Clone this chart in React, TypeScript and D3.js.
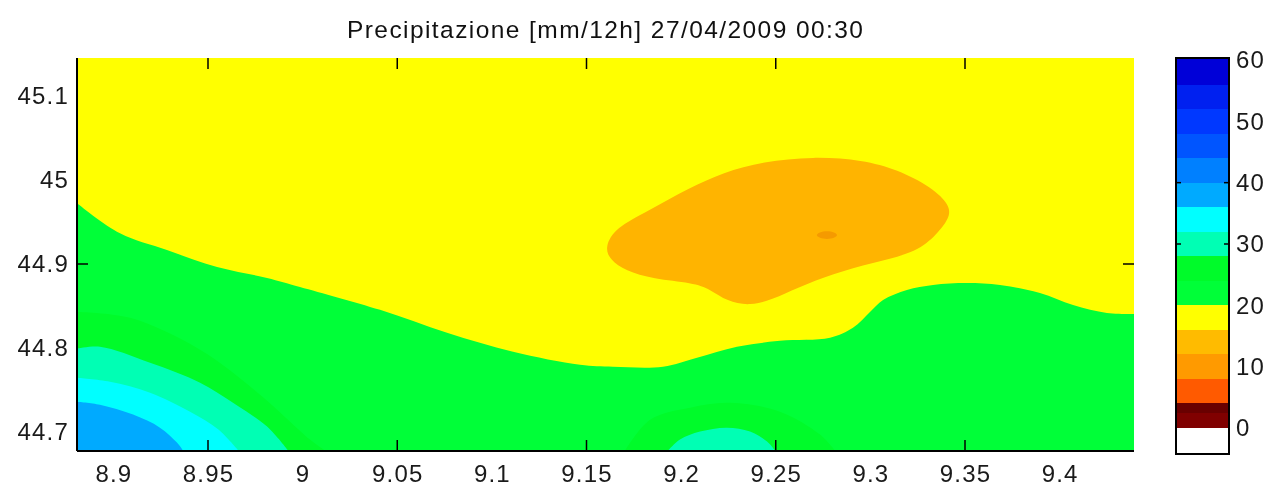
import React, { useEffect, useRef } from "react";
import * as d3 from "d3";

type Pt = [number, number];

const titleText = "Precipitazione [mm/12h] 27/04/2009 00:30";
const xLabels = [8.9, 8.95, 9, 9.05, 9.1, 9.15, 9.2, 9.25, 9.3, 9.35, 9.4];
const xTicks = [8.95, 9.05, 9.15, 9.25, 9.35];
const yLabels = [44.7, 44.8, 44.9, 45, 45.1];
const yTicks = [44.9];
const barLabels = [0, 10, 20, 30, 40, 50, 60];
const barTicks = [30, 40];

// colorbar bands: levels[i]..levels[i+1] is painted with bandColors[i]
const levels = [-4.2, 0, 2.4, 4, 8, 12, 16, 20, 24, 28, 32, 36, 40, 44, 48, 52, 56, 60.3];
const bandColors = ["#ffffff", "#800000", "#690000", "#ff5a00", "#ff9a00", "#ffbb00", "#ffff00", "#00ff38", "#00fb2a",
  "#00ffb4", "#00ffff", "#00aaff", "#0080ff", "#0055ff", "#0038ff", "#0020f0", "#0000d8"];

// contour boundaries, [lon, lat]
const greenEdge: Pt[] = [[8.8808, 44.9724], [8.9035, 44.9365], [8.9283, 44.9166], [8.9548, 44.8964], [8.9812, 44.8834],
  [8.9986, 44.8727], [9.0409, 44.8454], [9.0763, 44.8181], [9.1112, 44.7955], [9.1466, 44.78], [9.164, 44.7777],
  [9.1904, 44.7777], [9.2084, 44.7884], [9.2295, 44.8014], [9.2522, 44.8086], [9.2787, 44.8121], [9.2908, 44.824],
  [9.2998, 44.843], [9.3067, 44.8572], [9.3193, 44.8691], [9.3331, 44.8751], [9.3511, 44.8774], [9.3685, 44.8751],
  [9.3896, 44.8656], [9.4071, 44.8513], [9.425, 44.8418], [9.4393, 44.8406]];
const deepGreenLeft: Pt[] = [[8.8808, 44.843], [8.9088, 44.8359], [8.9458, 44.7979], [8.9775, 44.7444], [9.0039, 44.691], [9.0118, 44.6779]];
const deepGreenMid: Pt[] = [[9.1703, 44.6779], [9.1836, 44.7147], [9.2047, 44.729], [9.2258, 44.7349], [9.2522, 44.7242], [9.2734, 44.6969], [9.2813, 44.6779]];
const springLeft: Pt[] = [[8.8808, 44.799], [8.8929, 44.8014], [8.9194, 44.7824], [8.9458, 44.7587], [8.9632, 44.7349], [8.9812, 44.7064], [8.9923, 44.6779]];
const cyanLeft: Pt[] = [[8.8808, 44.7646], [8.8982, 44.7599], [8.9194, 44.7468], [8.9405, 44.7242], [8.9555, 44.7029], [8.966, 44.6779]];
const azureLeft: Pt[] = [[8.8808, 44.7361], [8.8929, 44.7325], [8.9104, 44.7207], [8.9246, 44.7052], [8.9336, 44.6874], [8.9368, 44.6779]];
const springMid: Pt[] = [[9.1931, 44.6779], [9.1994, 44.691], [9.21, 44.7005], [9.2242, 44.7052], [9.2364, 44.7005], [9.2454, 44.6886], [9.2496, 44.6779]];
const amberBlob: Pt[] = [[9.1595, 44.9202], [9.1655, 44.9435], [9.182, 44.9625], [9.2047, 44.991], [9.2221, 45.009],
  [9.2433, 45.022], [9.2697, 45.028], [9.2961, 45.024], [9.3141, 45.0125], [9.3325, 44.9914], [9.342, 44.9701],
  [9.342, 44.9546], [9.334, 44.9321], [9.3225, 44.9125], [9.3014, 44.9015], [9.2802, 44.8885], [9.2612, 44.8715],
  [9.2485, 44.858], [9.2364, 44.85], [9.2242, 44.8555], [9.2153, 44.87], [9.2063, 44.8775], [9.1851, 44.882],
  [9.1705, 44.892], [9.1625, 44.9048]];
const orangeSpot: Pt[] = [[9.269, 44.9344], [9.2771, 44.9415], [9.285, 44.9344], [9.2771, 44.9275]];

const FONT = "'Liberation Sans', Arial, sans-serif";

export default function App() {
  const svgRef = useRef<SVGSVGElement>(null);

  useEffect(() => {
    const svg = d3.select(svgRef.current);
    svg.selectAll("*").remove();

    const plot = { left: 77, right: 1134, top: 58, bottom: 451 };
    const bar = { left: 1176, right: 1229, top: 58, bottom: 454 };

    const x = d3.scaleLinear().domain([8.95, 9.35]).range([208, 965]);
    const y = d3.scaleLinear().domain([44.9, 45.1]).range([264, 96]);
    const c = d3.scaleLinear().domain([0, 60]).range([428, 60]);

    const curve = d3.line<Pt>().x((d) => x(d[0])).y((d) => y(d[1])).curve(d3.curveCatmullRom.alpha(0.5));
    const closedCurve = d3.line<Pt>().x((d) => x(d[0])).y((d) => y(d[1])).curve(d3.curveBasisClosed);

    // region under an edge running down to the bottom of the plot
    const toBottom = (edge: Pt[]) => {
      const last = edge[edge.length - 1];
      return `${curve(edge)}L${x(last[0])},${plot.bottom}L${x(edge[0][0])},${plot.bottom}Z`;
    };

    const defs = svg.append("defs");
    defs.append("clipPath").attr("id", "plot-clip").append("rect")
      .attr("x", plot.left).attr("y", plot.top)
      .attr("width", plot.right - plot.left).attr("height", plot.bottom - plot.top);

    const root = svg.append("g");

    root.append("text").attr("x", 605).attr("y", 38).attr("text-anchor", "middle")
      .attr("font-family", FONT).attr("font-size", 24.5)
      .attr("textLength", 516).attr("lengthAdjust", "spacing").attr("fill", "#111").text(titleText);

    // map
    const map = root.append("g").attr("clip-path", "url(#plot-clip)");
    map.append("rect").attr("x", plot.left).attr("y", plot.top)
      .attr("width", plot.right - plot.left).attr("height", plot.bottom - plot.top).attr("fill", "#ffff00");
    map.append("path").attr("d", toBottom(greenEdge)).attr("fill", "#00ff38");
    map.append("path").attr("d", toBottom(deepGreenLeft)).attr("fill", "#00fb2a");
    map.append("path").attr("d", toBottom(deepGreenMid)).attr("fill", "#00fb2a");
    map.append("path").attr("d", toBottom(springLeft)).attr("fill", "#00ffb4");
    map.append("path").attr("d", toBottom(cyanLeft)).attr("fill", "#00ffff");
    map.append("path").attr("d", toBottom(azureLeft)).attr("fill", "#00aaff");
    map.append("path").attr("d", toBottom(springMid)).attr("fill", "#00ffb4");
    map.append("path").attr("d", closedCurve(amberBlob)).attr("fill", "#ffb400");
    map.append("path").attr("d", closedCurve(orangeSpot)).attr("fill", "#f59a00");

    // axes: labels and ticks are on different steps in the original
    const labelStyle = (g: any) => {
      g.select(".domain").remove();
      g.selectAll("text").attr("font-family", FONT).attr("font-size", 24).attr("fill", "#1a1a1a")
        .attr("letter-spacing", 1.2);
    };
    const xAxis = d3.axisBottom(x).tickValues(xLabels).tickSize(0).tickPadding(14).tickFormat((d) => String(d));
    root.append("g").attr("transform", `translate(0,${plot.bottom})`).call(xAxis as any).call(labelStyle);
    const yAxis = d3.axisLeft(y).tickValues(yLabels).tickSize(0).tickPadding(8).tickFormat((d) => String(d));
    root.append("g").attr("transform", `translate(${plot.left},0)`).call(yAxis as any).call(labelStyle);

    const ink = root.append("g").attr("stroke", "#000");
    ink.append("line").attr("x1", plot.left).attr("x2", plot.left).attr("y1", plot.top).attr("y2", plot.bottom).attr("stroke-width", 2);
    ink.append("line").attr("x1", plot.left).attr("x2", plot.right).attr("y1", plot.bottom).attr("y2", plot.bottom).attr("stroke-width", 2);
    xTicks.forEach((t) => {
      ink.append("line").attr("x1", x(t)).attr("x2", x(t)).attr("y1", plot.top).attr("y2", plot.top + 11).attr("stroke-width", 1.5);
      ink.append("line").attr("x1", x(t)).attr("x2", x(t)).attr("y1", plot.bottom).attr("y2", plot.bottom - 11).attr("stroke-width", 1.5);
    });
    yTicks.forEach((t) => {
      ink.append("line").attr("x1", plot.left).attr("x2", plot.left + 11).attr("y1", y(t)).attr("y2", y(t)).attr("stroke-width", 1.5);
      ink.append("line").attr("x1", plot.right).attr("x2", plot.right - 11).attr("y1", y(t)).attr("y2", y(t)).attr("stroke-width", 1.5);
    });

    // colorbar
    const barG = root.append("g");
    bandColors.forEach((color, i) => {
      barG.append("rect").attr("x", bar.left).attr("width", bar.right - bar.left)
        .attr("y", c(levels[i + 1])).attr("height", c(levels[i]) - c(levels[i + 1])).attr("fill", color)
        .attr("shape-rendering", "crispEdges");
    });
    barG.append("rect").attr("x", bar.left).attr("y", bar.top).attr("width", bar.right - bar.left)
      .attr("height", bar.bottom - bar.top).attr("fill", "none").attr("stroke", "#000").attr("stroke-width", 2);
    barTicks.forEach((t) => {
      barG.append("line").attr("x1", bar.left).attr("x2", bar.left + 5).attr("y1", c(t)).attr("y2", c(t)).attr("stroke", "#000").attr("stroke-width", 1.5);
      barG.append("line").attr("x1", bar.right).attr("x2", bar.right - 5).attr("y1", c(t)).attr("y2", c(t)).attr("stroke", "#000").attr("stroke-width", 1.5);
    });
    const barAxis = d3.axisRight(c).tickValues(barLabels).tickSize(0).tickPadding(7).tickFormat((d) => String(d));
    root.append("g").attr("transform", `translate(${bar.right},0)`).call(barAxis as any).call(labelStyle);
  }, []);

  return <svg ref={svgRef} width={1269} height={487} style={{ position: "absolute", left: 0, top: 0, background: "#fff", filter: "blur(0.7px)" }} />;
}
